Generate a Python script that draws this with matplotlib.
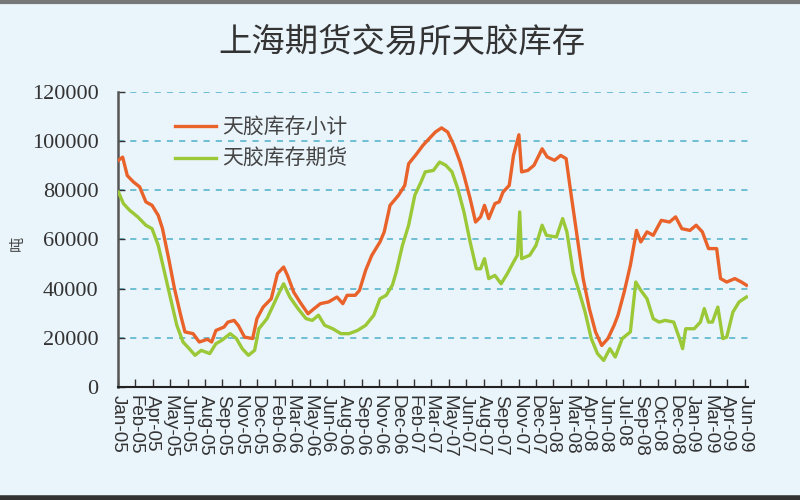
import numpy as np
import matplotlib
matplotlib.use("Agg")
import matplotlib.pyplot as plt
from matplotlib.lines import Line2D

plt.rcParams['font.family'] = ['Noto Sans CJK SC', 'DejaVu Sans']

# 数据：x 为自 2005-01-01 起的天数，y 为库存(吨)
days_total = [1, 12, 24, 40, 56, 72, 88, 104, 115, 131, 146, 162, 173, 194, 210, 231, 242, 253,
              274, 284, 300, 311, 327, 348, 359, 375, 396, 412, 428, 438, 454, 470, 491, 507,
              523, 544, 566, 581, 592, 613, 624, 640, 656, 677, 688, 703, 725, 741, 751, 772,
              788, 804, 820, 836, 852, 868, 884, 894, 910, 924, 937, 947, 958, 974, 985, 995,
              1011, 1022, 1036, 1043, 1059, 1075, 1096, 1109, 1128, 1144, 1158, 1170, 1186,
              1202, 1218, 1234, 1250, 1266, 1282, 1292, 1308, 1324, 1340, 1351, 1367, 1383,
              1404, 1425, 1441, 1457, 1478, 1494, 1510, 1526, 1547, 1557, 1573, 1594, 1611, 1624]
total = [92200, 93500, 86000, 83400, 81400, 75300, 73900, 69800, 64400, 52200, 40000, 29200,
         22400, 21700, 18300, 19400, 18300, 23000, 24400, 26400, 27100, 25000, 20300, 19700,
         27800, 32500, 35900, 46100, 48800, 45400, 38600, 34600, 29800, 31900, 33900, 34600,
         36600, 33900, 37300, 37300, 39300, 47500, 53600, 59000, 63100, 73900, 78000, 82000,
         90800, 94900, 98300, 101000, 103700, 105400, 103700, 98300, 91500, 86100, 76600,
         67100, 69200, 73900, 68500, 74600, 75300, 79300, 82000, 94200, 102600, 87500, 88100,
         90200, 96900, 93600, 92200, 94200, 92900, 79300, 61700, 44100, 31900, 22400, 16900,
         19700, 25100, 29200, 38600, 49500, 63700, 59000, 63100, 61700, 67800, 67100, 69200,
         64400, 63700, 65800, 63100, 56300, 56300, 44100, 42700, 44100, 42700, 41400]

days_futures = [1, 14, 30, 51, 72, 88, 104, 120, 136, 152, 168, 184, 199, 215, 237, 253, 268,
                290, 306, 321, 337, 353, 364, 385, 401, 417, 428, 444, 465, 486, 502, 518, 534,
                555, 576, 597, 619, 640, 661, 677, 693, 709, 719, 735, 751, 767, 783, 794, 815,
                831, 847, 863, 878, 894, 910, 926, 937, 947, 958, 974, 990, 1006, 1022, 1032,
                1038, 1043, 1064, 1080, 1096, 1107, 1133, 1149, 1160, 1176, 1192, 1207, 1223,
                1239, 1255, 1271, 1285, 1303, 1324, 1338, 1351, 1367, 1383, 1398, 1414, 1436,
                1451, 1459, 1467, 1489, 1505, 1515, 1526, 1536, 1550, 1563, 1573, 1589, 1605, 1624]
futures = [79300, 74600, 71900, 69200, 65800, 64400, 57600, 46800, 35900, 25100, 18300, 15600,
           12900, 14900, 13600, 17600, 19000, 21700, 19700, 15600, 12900, 14900, 23700, 27800,
           33200, 38600, 42000, 36600, 31900, 27800, 27100, 29200, 25100, 23700, 21700, 21700,
           23000, 25100, 29200, 35900, 37300, 41400, 46800, 57600, 65800, 78000, 83400, 87500,
           88100, 91500, 90200, 87500, 80700, 71200, 59000, 48100, 48100, 52200, 44100, 45400,
           42000, 46100, 50800, 53600, 71200, 52200, 53600, 57600, 65800, 61700, 61000, 68500,
           63100, 46800, 38600, 30500, 19700, 13600, 10800, 15600, 12200, 19700, 22400, 42700,
           39300, 35900, 27800, 26400, 27100, 26400, 19700, 15600, 23700, 23700, 26400, 31900,
           26400, 26400, 32500, 19700, 20300, 30500, 34600, 36600]

tick_labels = ['Jan-05', 'Feb-05', 'Apr-05', 'May-05', 'Jun-05', 'Aug-05', 'Sep-05', 'Nov-05',
               'Dec-05', 'Feb-06', 'Mar-06', 'May-06', 'Jun-06', 'Aug-06', 'Sep-06', 'Nov-06',
               'Dec-06', 'Feb-07', 'Mar-07', 'May-07', 'Jun-07', 'Aug-07', 'Sep-07', 'Nov-07',
               'Dec-07', 'Jan-08', 'Mar-08', 'Apr-08', 'Jun-08', 'Jul-08', 'Sep-08', 'Oct-08',
               'Dec-08', 'Jan-09', 'Mar-09', 'Apr-09', 'Jun-09']
tick_step = 45  # 天

bg = '#EAF4FB'
fig = plt.figure(figsize=(8, 5), dpi=100, facecolor=bg)
ax = fig.add_axes([0.1475, 0.226, 0.7875, 0.59])
ax.set_facecolor(bg)

ax.plot(days_total, total, color='#E8622A', lw=2.4, label='天胶库存小计', zorder=3)
ax.plot(days_futures, futures, color='#9BC836', lw=2.4, label='天胶库存期货', zorder=3)

ax.set_ylim(0, 120000)
ax.set_xlim(0, 1628)
ax.set_yticks(np.arange(0, 120001, 20000))
ax.yaxis.grid(True, color='#4BAFC8', linestyle=(0, (4, 4)), lw=1.1)
ax.set_axisbelow(True)

ax.set_xticks(np.arange(len(tick_labels)) * tick_step)
ax.set_xticklabels(tick_labels, rotation=270, family=['Liberation Sans'], fontsize=13.5,
                   color='#333333')
for lab in ax.get_yticklabels():
    lab.set_family(['Liberation Serif'])
    lab.set_fontsize(16)
    lab.set_color('#333333')

ax.tick_params(axis='x', direction='in', length=6, width=1, pad=6, color='#333333')
ax.tick_params(axis='y', direction='in', length=5, width=1, pad=14, color='#333333')
for side in ['top', 'right']:
    ax.spines[side].set_visible(False)
ax.spines['left'].set_color('#555555')
ax.spines['left'].set_linewidth(1.8)
ax.spines['bottom'].set_color('#222222')
ax.spines['bottom'].set_linewidth(1.5)

leg = ax.legend(loc='upper left', bbox_to_anchor=(0.06, 0.98), frameon=False,
                fontsize=15, handlelength=2.0, handletextpad=0.3, labelspacing=0.45)
for t in leg.get_texts():
    t.set_color('#444444')

fig.text(0.503, 0.915, '上海期货交易所天胶库存', ha='center', va='center', fontsize=24,
         color='#333333')
fig.text(0.022, 0.514, '吨', ha='center', va='center', rotation=90, fontsize=11,
         color='#444444')

# 上下边框
fig.add_artist(Line2D([0, 1], [0.997, 0.997], transform=fig.transFigure, color='#777777', lw=3))
fig.add_artist(Line2D([0, 1], [0.004, 0.004], transform=fig.transFigure, color='#333333', lw=4))

fig.savefig('out.png', dpi=100, facecolor=bg)
